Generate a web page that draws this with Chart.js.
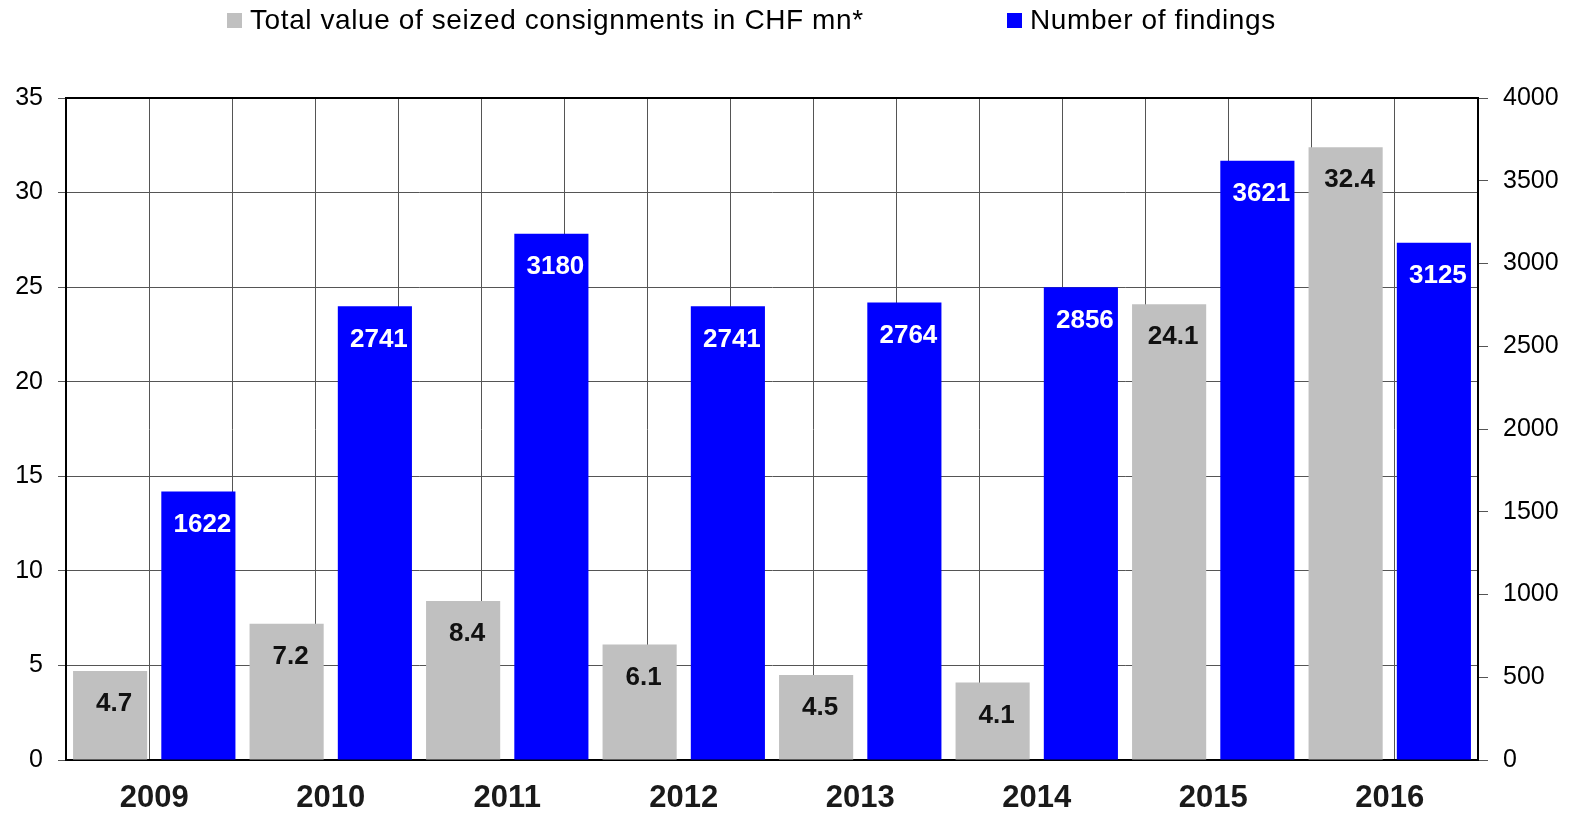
<!DOCTYPE html>
<html>
<head>
<meta charset="utf-8">
<script src="https://cdn.jsdelivr.net/npm/chart.js@4/dist/chart.umd.min.js"></script>
<style>
  html, body { margin: 0; padding: 0; background: #fff; }
  #wrap { position: relative; width: 1570px; height: 814px; }
  #legend { position: absolute; left: 0; top: 0; width: 1570px; height: 40px;
            font-family: 'Liberation Sans', Arial, sans-serif; font-size: 28px; letter-spacing: 0.6px; color: #000; }
  .item { position: absolute; top: 4px; display: flex; align-items: center; white-space: nowrap; line-height: 32px; }
  .sw { display: inline-block; width: 15px; height: 15px; margin-right: 8px; }
</style>
</head>
<body>
<div id="wrap">
  <canvas id="c" width="1570" height="814"></canvas>
  <div id="legend">
    <div class="item" style="left:227px"><span class="sw" style="background:#c0c0c0"></span>Total value of seized consignments in CHF mn*</div>
    <div class="item" style="left:1007px"><span class="sw" style="background:#0000ff"></span>Number of findings</div>
  </div>
</div>
<script>
const categories = ['2009','2010','2011','2012','2013','2014','2015','2016'];
const valueCHF = [4.7, 7.2, 8.4, 6.1, 4.5, 4.1, 24.1, 32.4];
const findings = [1622, 2741, 3180, 2741, 2764, 2856, 3621, 3125];
const leftTicks = [0, 35, 5];
const rightTicks = [0, 4000, 500];

const FONT = "'Liberation Sans', Arial, sans-serif";

const barLabels = {
  id: 'barLabels',
  afterDatasetsDraw(chart) {
    const ctx = chart.ctx;
    ctx.save();
    ctx.font = 'bold 26px ' + FONT;
    ctx.textAlign = 'center';
    ctx.textBaseline = 'middle';
    chart.data.datasets.forEach((ds, di) => {
      const meta = chart.getDatasetMeta(di);
      ctx.fillStyle = ds.labelColor;
      meta.data.forEach((el, i) => {
        const v = ds.data[i];
        ctx.fillText(ds.fmt(v), el.x + 4, el.y + 33);
      });
    });
    ctx.restore();
  }
};

new Chart(document.getElementById('c'), {
  type: 'bar',
  data: {
    labels: categories,
    datasets: [
      { label: 'Total value of seized consignments in CHF mn*', data: valueCHF,
        backgroundColor: '#c0c0c0', yAxisID: 'y', labelColor: '#111',
        fmt: v => v.toFixed(1), categoryPercentage: 1, barPercentage: 0.84 },
      { label: 'Number of findings', data: findings,
        backgroundColor: '#0000ff', yAxisID: 'y1', labelColor: '#fff',
        fmt: v => String(v), categoryPercentage: 1, barPercentage: 0.84 }
    ]
  },
  options: {
    responsive: false,
    animation: false,
    layout: { padding: { top: 98, left: 0, right: 0, bottom: 0 } },
    plugins: { legend: { display: false }, tooltip: { enabled: false } },
    scales: {
      x: {
        type: 'category', position: 'bottom', offset: true,
        grid: { display: false, drawTicks: false },
        border: { display: true, color: '#000', width: 2 },
        ticks: { font: { family: FONT, size: 31, weight: 'bold' }, color: '#1a1a1a', padding: 20 },
        afterFit: s => { s.height = 54; }
      },
      xg: {
        type: 'linear', position: 'top', min: 0, max: categories.length * 2,
        grid: { display: true, color: '#555', lineWidth: 1, drawTicks: false },
        border: { display: true, color: '#000', width: 2 },
        ticks: { display: false, stepSize: 1 },
        afterFit: s => { s.height = 0; }
      },
      y: {
        position: 'left', min: leftTicks[0], max: leftTicks[1],
        grid: { color: '#555', lineWidth: 1, tickLength: 8 },
        border: { display: true, color: '#000', width: 2 },
        ticks: { stepSize: leftTicks[2], font: { family: FONT, size: 25 }, color: '#000', padding: 15 },
        afterFit: s => { s.width = 66; }
      },
      y1: {
        position: 'right', min: rightTicks[0], max: rightTicks[1],
        grid: { drawOnChartArea: false, color: '#555', lineWidth: 1, tickLength: 10 },
        border: { display: true, color: '#000', width: 2 },
        ticks: { stepSize: rightTicks[2], font: { family: FONT, size: 25 }, color: '#000', padding: 15,
                 callback: v => String(v) },
        afterFit: s => { s.width = 92; }
      }
    }
  },
  plugins: [barLabels]
});
</script>
</body>
</html>
